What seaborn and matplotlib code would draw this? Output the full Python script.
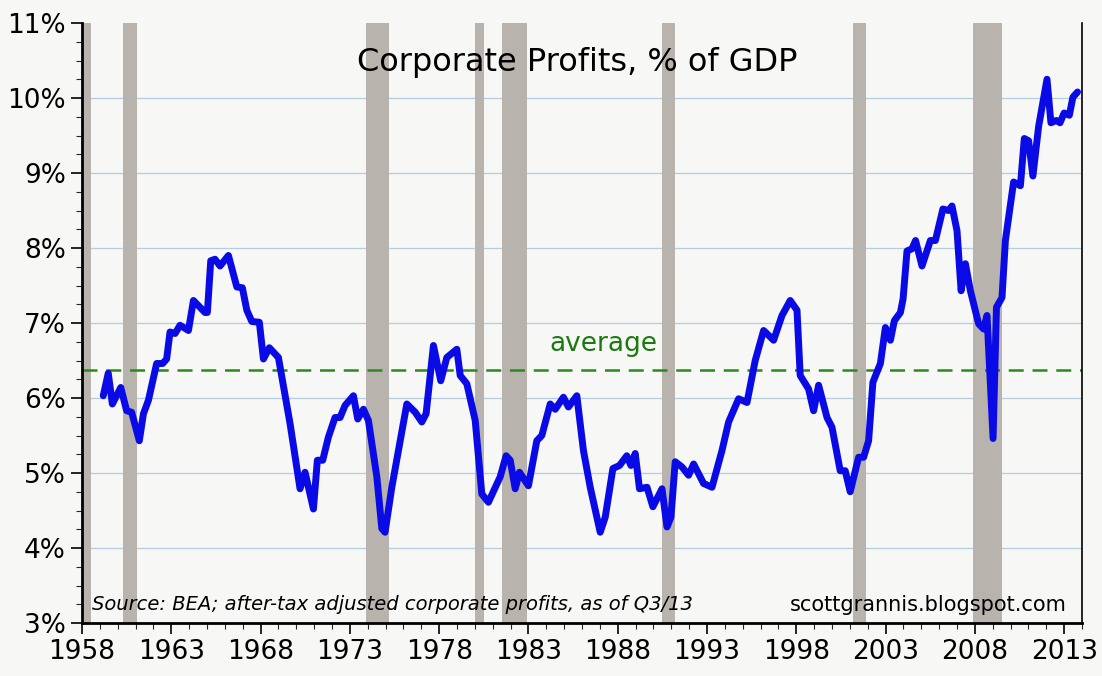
import matplotlib
matplotlib.use("Agg")
import matplotlib.pyplot as plt
import matplotlib.ticker as mticker
import pandas as pd
import seaborn as sns

years = [
    1959.19, 1959.47, 1959.70, 1960.17, 1960.50, 1960.78, 1961.21, 1961.44, 1961.72, 1962.18,
    1962.52, 1962.74, 1962.93, 1963.21, 1963.49, 1963.96, 1964.24, 1964.89, 1965.02, 1965.21,
    1965.45, 1965.73, 1966.20, 1966.67, 1966.98, 1967.23, 1967.51, 1967.93, 1968.16, 1968.49,
    1969.00, 1969.65, 1970.21, 1970.49, 1970.96, 1971.18, 1971.48, 1971.80, 1972.17, 1972.45,
    1972.73, 1973.20, 1973.44, 1973.76, 1974.04, 1974.51, 1974.79, 1974.97, 1975.35, 1975.82,
    1976.19, 1976.66, 1977.03, 1977.27, 1977.68, 1978.09, 1978.43, 1978.99, 1979.18, 1979.55,
    1980.02, 1980.39, 1980.76, 1981.42, 1981.75, 1981.98, 1982.26, 1982.50, 1983.00, 1983.47,
    1983.75, 1984.22, 1984.50, 1984.96, 1985.24, 1985.71, 1986.08, 1986.46, 1987.02, 1987.30,
    1987.73, 1988.10, 1988.51, 1988.74, 1988.98, 1989.22, 1989.64, 1989.97, 1990.48, 1990.76,
    1990.98, 1991.22, 1991.60, 1991.97, 1992.25, 1992.81, 1993.28, 1993.84, 1994.21, 1994.77,
    1995.24, 1995.70, 1996.17, 1996.73, 1997.20, 1997.66, 1998.04, 1998.22, 1998.69, 1998.97,
    1999.25, 1999.72, 2000.00, 2000.46, 2000.74, 2001.02, 2001.49, 2001.77, 2002.05, 2002.29,
    2002.71, 2002.99, 2003.27, 2003.49, 2003.83, 2003.98, 2004.20, 2004.48, 2004.68, 2005.04,
    2005.51, 2005.79, 2006.21, 2006.53, 2006.72, 2007.00, 2007.23, 2007.47, 2007.75, 2008.21,
    2008.49, 2008.68, 2009.02, 2009.21, 2009.52, 2009.71, 2010.17, 2010.55, 2010.77, 2011.01,
    2011.25, 2011.57, 2012.04, 2012.26, 2012.56, 2012.77, 2013.00, 2013.29, 2013.49, 2013.75,
]
profits = [
    6.03, 6.33, 5.92, 6.14, 5.83, 5.81, 5.43, 5.79, 5.97, 6.46,
    6.46, 6.52, 6.88, 6.86, 6.97, 6.90, 7.30, 7.14, 7.14, 7.83,
    7.85, 7.76, 7.90, 7.48, 7.47, 7.17, 7.02, 7.01, 6.52, 6.67,
    6.54, 5.66, 4.79, 5.01, 4.52, 5.17, 5.17, 5.48, 5.74, 5.74,
    5.90, 6.03, 5.72, 5.85, 5.70, 4.95, 4.26, 4.21, 4.81, 5.43,
    5.92, 5.81, 5.68, 5.79, 6.70, 6.23, 6.54, 6.65, 6.30, 6.19,
    5.70, 4.72, 4.61, 4.95, 5.23, 5.17, 4.79, 5.01, 4.83, 5.43,
    5.50, 5.92, 5.85, 6.01, 5.88, 6.03, 5.30, 4.81, 4.21, 4.41,
    5.06, 5.10, 5.23, 5.10, 5.26, 4.79, 4.81, 4.55, 4.79, 4.28,
    4.41, 5.15, 5.08, 4.97, 5.12, 4.86, 4.81, 5.30, 5.68, 5.99,
    5.94, 6.50, 6.90, 6.77, 7.10, 7.30, 7.17, 6.30, 6.12, 5.83,
    6.17, 5.74, 5.61, 5.03, 5.03, 4.75, 5.21, 5.21, 5.43, 6.21,
    6.46, 6.94, 6.77, 7.03, 7.14, 7.32, 7.96, 7.99, 8.10, 7.76,
    8.10, 8.10, 8.52, 8.50, 8.56, 8.23, 7.43, 7.79, 7.43, 6.99,
    6.92, 7.10, 5.46, 7.21, 7.34, 8.10, 8.88, 8.83, 9.46, 9.43,
    8.96, 9.62, 10.25, 9.67, 9.70, 9.67, 9.80, 9.77, 10.01, 10.08,
]
recession_start = [1957.6, 1960.3, 1973.9, 1980.0, 1981.5, 1990.5, 2001.2, 2007.9]
recession_end = [1958.5, 1961.1, 1975.2, 1980.5, 1982.9, 1991.2, 2001.9, 2009.5]
average = 6.38
x_ticks = [1958, 1963, 1968, 1973, 1978, 1983, 1988, 1993, 1998, 2003, 2008, 2013]

df = pd.DataFrame({"year": years, "profits": profits})

sns.set_style("white")
bg = "#f7f7f5"
fig = plt.figure(figsize=(11.02, 6.76), dpi=100, facecolor=bg)
ax = fig.add_axes([82 / 1102, 1 - 623 / 676, 1000 / 1102, 600 / 676], facecolor=bg)

for s, e in zip(recession_start, recession_end):
    ax.axvspan(s, e, color="#b9b3ae", lw=0, zorder=1)
for v in range(4, 11):
    ax.axhline(v, color="#b5cde0", lw=0.9, zorder=0.5)
ax.axhline(average, color="#2a8a1a", lw=1.8, ls=(0, (6, 3.5)), zorder=2)

sns.lineplot(data=df, x="year", y="profits", color="#0a0ae6", lw=5, ax=ax, zorder=3)

ax.set_xlim(1958, 2014)
ax.set_ylim(3, 11)
ax.set_xticks(x_ticks)
ax.xaxis.set_minor_locator(mticker.MultipleLocator(1))
ax.yaxis.set_major_locator(mticker.MultipleLocator(1))
ax.yaxis.set_minor_locator(mticker.MultipleLocator(0.25))
ax.yaxis.set_major_formatter(mticker.FuncFormatter(lambda v, p: f"{v:.0f}%"))
ax.tick_params(axis="both", which="major", direction="out", length=8, width=1.2,
               labelsize=19, colors="black", bottom=True, left=True)
ax.tick_params(axis="both", which="minor", direction="out", length=4, width=0.8,
               bottom=True, left=True)
ax.set_xlabel("")
ax.set_ylabel("")
for side in ["left", "bottom"]:
    ax.spines[side].set_linewidth(2)
    ax.spines[side].set_color("black")
ax.spines["right"].set_linewidth(1.2)
ax.spines["right"].set_color("black")
ax.spines["top"].set_visible(False)

ax.text(0.495, 0.935, "Corporate Profits, % of GDP", transform=ax.transAxes,
        ha="center", va="center", fontsize=23, color="black")
ax.text(1987.2, 6.72, "average", ha="center", va="center", fontsize=19, color="#1a7a10")
ax.text(0.01, 0.03, "Source: BEA; after-tax adjusted corporate profits, as of Q3/13",
        transform=ax.transAxes, ha="left", va="center", fontsize=14, style="italic",
        color="black")
ax.text(0.985, 0.03, "scottgrannis.blogspot.com", transform=ax.transAxes,
        ha="right", va="center", fontsize=15, color="black")

fig.savefig("out.png", dpi=100, facecolor=bg)
